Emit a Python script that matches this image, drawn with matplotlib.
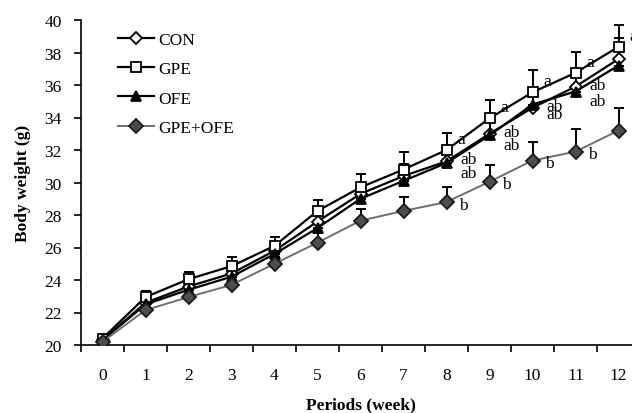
import matplotlib
matplotlib.use("Agg")
import matplotlib.pyplot as plt
import numpy as np

plt.rcParams['font.family'] = ['Liberation Serif', 'DejaVu Serif']

weeks = list(range(13))
week_labels = [str(w) for w in weeks]

con = [20.3, 22.6, 23.6, 24.4, 25.8, 27.6, 29.3, 30.4, 31.3, 33.0, 34.6, 35.9, 37.6]
con_err = [0.15, 0.3, 0.35, 0.4, 0.45, 0.55, 0.65, 0.75, 0.8, 0.9, 1.0, 1.1, 1.3]
gpe = [20.4, 22.95, 24.05, 24.85, 26.1, 28.25, 29.7, 30.8, 32.0, 33.95, 35.55, 36.75, 38.35]
gpe_err = [0.1, 0.4, 0.45, 0.55, 0.55, 0.65, 0.85, 1.05, 1.05, 1.15, 1.35, 1.3, 1.35]
ofe = [20.3, 22.5, 23.4, 24.2, 25.6, 27.2, 29.0, 30.1, 31.2, 32.9, 34.8, 35.6, 37.2]
ofe_err = [0.15, 0.3, 0.3, 0.4, 0.45, 0.5, 0.6, 0.7, 0.8, 0.9, 1.0, 1.05, 1.2]
gpe_ofe = [20.2, 22.15, 22.95, 23.7, 25.0, 26.3, 27.65, 28.25, 28.8, 30.05, 31.35, 31.9, 33.2]
gpe_ofe_err = [0.1, 0.2, 0.2, 0.3, 0.4, 0.6, 0.75, 0.85, 0.9, 1.0, 1.15, 1.4, 1.4]

con_sig = ['', '', '', '', '', '', '', '', 'ab', 'ab', 'ab', 'ab', 'a']
gpe_sig = ['', '', '', '', '', '', '', '', 'a', 'a', 'a', 'a', 'a']
ofe_sig = ['', '', '', '', '', '', '', '', 'ab', 'ab', 'ab', 'ab', 'a']
gpe_ofe_sig = ['', '', '', '', '', '', '', '', 'b', 'b', 'b', 'b', 'b']

FS = 12.5

fig = plt.figure(figsize=(6.32, 4.14), dpi=100)
ax = fig.add_axes([81/632, 68/414, 559/632, 325/414])

series = [
    ("CON", con, con_err, con_sig, dict(marker='D', markersize=6.5, mfc='white', mec='black', color='black', lw=1.6), (10, 1.5)),
    ("GPE", gpe, gpe_err, gpe_sig, dict(marker='s', markersize=7.5, mfc='white', mec='black', color='black', lw=1.6), (8, 8)),
    ("OFE", ofe, ofe_err, ofe_sig, dict(marker='^', markersize=7.5, mfc='black', mec='black', color='black', lw=1.6), (10, -7)),
    ("GPE+OFE", gpe_ofe, gpe_ofe_err, gpe_ofe_sig, dict(marker='D', markersize=7, mfc='#4d4d4d', mec='#1a1a1a', color='#6e6e6e', lw=1.4), (9, -2)),
]

x = np.array(weeks)
for name, vals, err, sig, st, off in series:
    vals = np.array(vals)
    err = np.array(err)
    ax.errorbar(x, vals, yerr=[np.zeros_like(err), err], fmt='none',
                ecolor='black', elinewidth=1.4, capsize=3.5, capthick=1.4, zorder=2)
for name, vals, err, sig, st, off in series:
    ax.plot(x, vals, label=name, zorder=3, markeredgewidth=1.3, **st)
    for xi, yi, s in zip(x, vals, sig):
        if s:
            ax.annotate(s, (xi, yi), xytext=off, textcoords='offset points',
                        ha='left', va='center', fontsize=FS, zorder=4)

ax.set_xlim(-0.5, 12.5)
ax.set_ylim(20, 40)
ax.set_yticks(np.arange(20, 41, 2))
ax.tick_params(axis='y', direction='out', length=5, width=1.2, labelsize=FS, pad=9)
ax.set_xticks(np.arange(-0.5, 12.6, 1.0))
ax.set_xticklabels([])
ax.set_xticks(x, minor=True)
ax.set_xticklabels(week_labels, minor=True)
ax.tick_params(axis='x', which='major', direction='out', length=5, width=1.2)
ax.tick_params(axis='x', which='minor', length=0, labelsize=FS, pad=16)

for s in ['top', 'right']:
    ax.spines[s].set_visible(False)
for s in ['left', 'bottom']:
    ax.spines[s].set_linewidth(1.2)

ax.set_ylabel("Body weight (g)", fontsize=FS, fontweight='bold')
ax.yaxis.set_label_coords(-0.09, 0.5)
ax.set_xlabel("Periods (week)", fontsize=FS, fontweight='bold')
ax.xaxis.set_label_coords(0.5, -0.158)

leg = ax.legend(loc='upper left', bbox_to_anchor=(0.066, 0.963), frameon=False,
                fontsize=FS, handlelength=2.1, handletextpad=0.25,
                labelspacing=0.75, borderpad=0, borderaxespad=0)

fig.savefig("out.png", dpi=100)
